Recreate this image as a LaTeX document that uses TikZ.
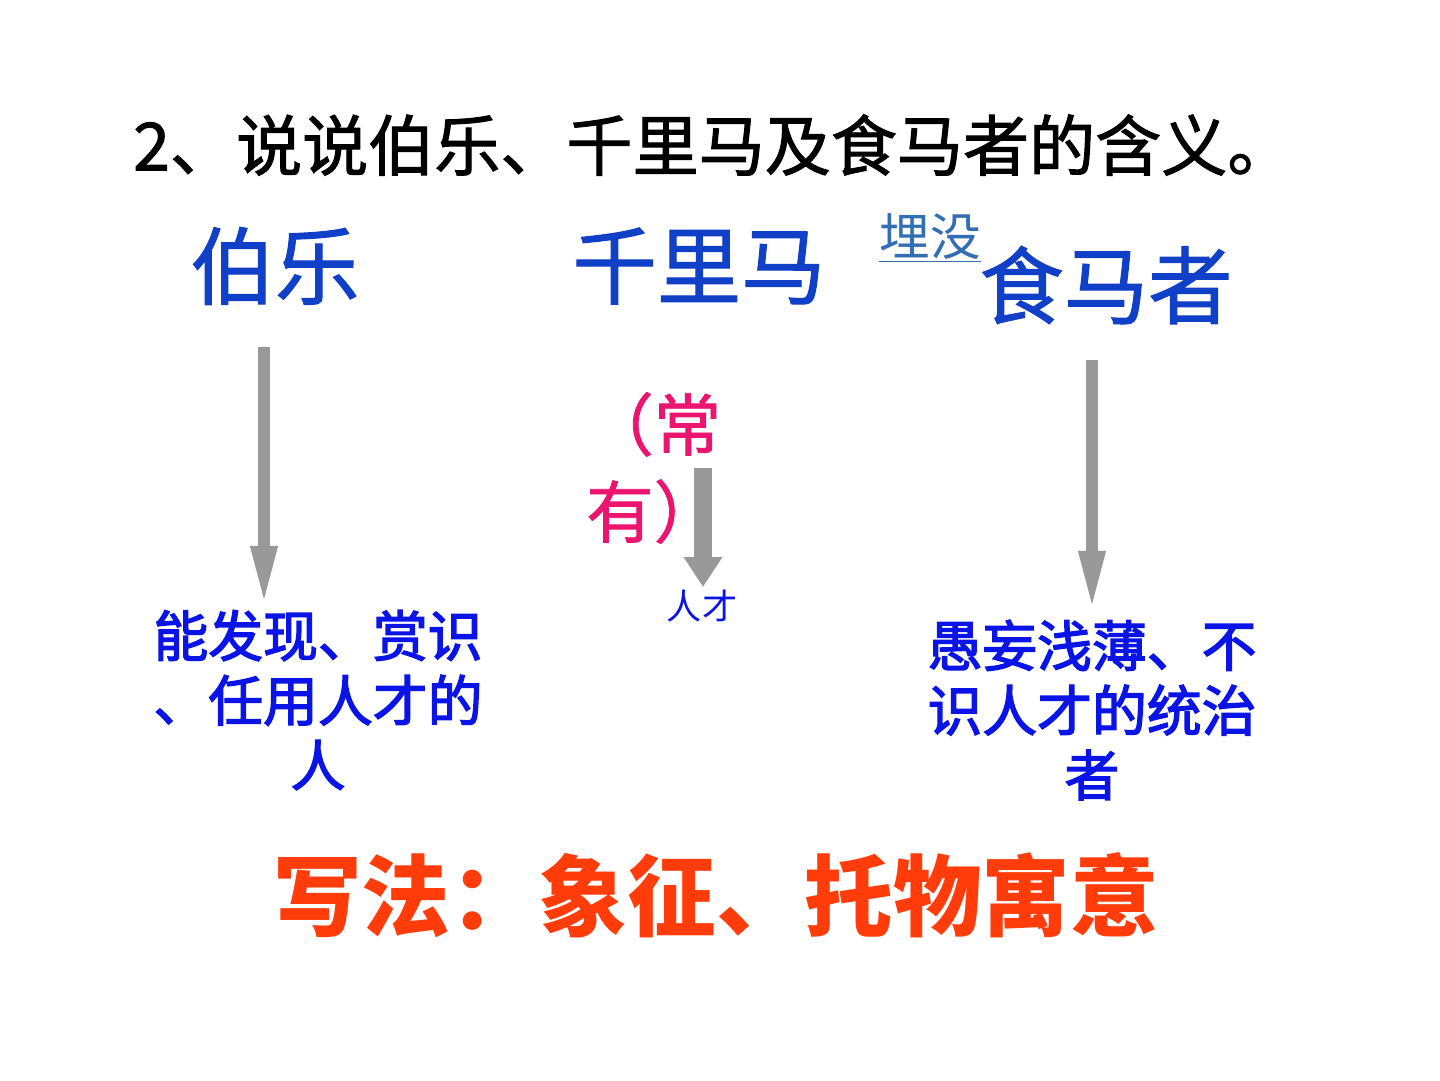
\documentclass[tikz,border=0pt]{standalone}
\usepackage{fontspec}
\setmainfont{Noto Sans CJK SC}
\usetikzlibrary{arrows.meta, positioning}

\definecolor{headblue}{RGB}{16,64,200}
\definecolor{buryblue}{RGB}{50,110,180}
\definecolor{descblue}{RGB}{10,20,230}
\definecolor{oftenpink}{RGB}{235,20,110}
\definecolor{methodred}{RGB}{255,60,10}
\definecolor{arrowgray}{RGB}{153,153,153}

\begin{document}
\begin{tikzpicture}[
    x=0.025cm, y=-0.025cm,
    % --- Style Definitions ---
    title/.style={
        inner sep=0pt, text=black,
        font=\fontsize{47}{52}\selectfont\addfontfeature{FakeBold=1.5}
    },
    keyword/.style={
        inner sep=0pt, text=headblue,
        font=\fontsize{60}{66}\selectfont\addfontfeature{FakeBold=1.2}
    },
    desc/.style={
        inner sep=0pt, text=descblue, align=center,
        font=\fontsize{39}{46}\selectfont\addfontfeature{FakeBold=2.5}
    },
    bigarrow/.style={
        -{Triangle[length=1.53cm, width=0.6cm]},
        line width=0.3cm, color=arrowgray
    },
    smallarrow/.style={
        -{Triangle[length=0.75cm, width=0.92cm]},
        line width=0.43cm, color=arrowgray
    }
]
\useasboundingbox (0,0) rectangle (1440,1080);

% ================= Question =================
\node[title, anchor=west] (question) at (133,145) {2、说说伯乐、千里马及食马者的含义。};

% ================= Keywords =================
\node[keyword] (bole) at (275,266) {伯乐};
\node[keyword] (horse) at (699,266) {千里马};
\node[keyword] (feeder) at (1106,285) {食马者};
\node[inner sep=0pt, text=buryblue, font=\fontsize{36}{40}\selectfont]
    (bury) at (930,238) {\underline{埋没}};

% ================= Meanings =================
\node[desc] (boledesc) at (318,700) {能发现、赏识\\、任用人才的\\人};
\node[desc] (feederdesc) at (1092,710) {愚妄浅薄、不\\识人才的统治\\者};
\node[inner sep=0pt, text=oftenpink, align=left, anchor=west,
      font=\fontsize{48}{62}\selectfont\addfontfeature{FakeBold=1.2}]
    (often) at (586,468) {（常\\有）};
\node[inner sep=0pt, text=descblue, font=\fontsize{25}{30}\selectfont]
    (talent) at (702,606) {人才};

% ================= Method =================
\node[inner sep=0pt, text=methodred, font=\bfseries\fontsize{63}{70}\selectfont]
    (method) at (716,895) {写法：象征、托物寓意};

% ================= Arrows =================
\coordinate (boletop) at (264,347);
\coordinate (boletip) at (264,607);
\coordinate (horsetop) at (703,468);
\coordinate (horsetip) at (703,587);
\coordinate (feedertop) at (1092,360);
\coordinate (feedertip) at (1092,612);

\draw[bigarrow] (boletop) -- (boletip);
\draw[smallarrow] (horsetop) -- (horsetip);
\draw[bigarrow] (feedertop) -- (feedertip);

\end{tikzpicture}
\end{document}
